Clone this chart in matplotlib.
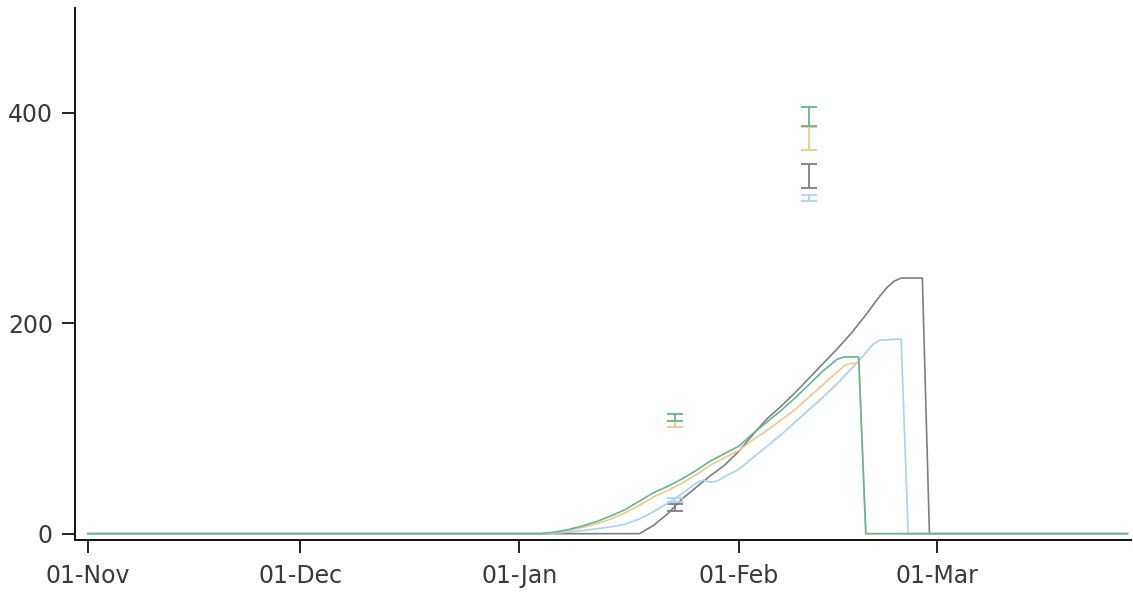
import matplotlib
matplotlib.use("Agg")
import matplotlib.pyplot as plt
import matplotlib.dates as mdates
import pandas as pd

# Simulated series (date, value)
grey_dates = ["2014-11-01", "2015-01-18", "2015-01-20", "2015-01-22", "2015-01-24",
              "2015-01-26", "2015-01-28", "2015-01-30", "2015-02-01", "2015-02-03",
              "2015-02-05", "2015-02-07", "2015-02-09", "2015-02-11", "2015-02-13",
              "2015-02-15", "2015-02-17", "2015-02-19", "2015-02-21", "2015-02-22",
              "2015-02-23", "2015-02-24", "2015-02-27", "2015-02-28", "2015-03-28"]
grey_vals = [0, 0, 8, 19, 33, 44, 55, 65, 78, 94, 109, 121, 134, 148, 162,
             176, 191, 208, 226, 234, 240, 243, 243, 0, 0]

blue_dates = ["2014-11-01", "2015-01-04", "2015-01-06", "2015-01-08", "2015-01-10",
              "2015-01-12", "2015-01-14", "2015-01-16", "2015-01-18", "2015-01-20",
              "2015-01-22", "2015-01-24", "2015-01-26", "2015-01-27", "2015-01-28",
              "2015-01-29", "2015-01-30", "2015-02-01", "2015-02-03", "2015-02-05",
              "2015-02-07", "2015-02-09", "2015-02-11", "2015-02-13", "2015-02-15",
              "2015-02-17", "2015-02-19", "2015-02-20", "2015-02-21", "2015-02-24",
              "2015-02-25", "2015-03-28"]
blue_vals = [0, 0, 0.5, 1.5, 3, 4.7, 6.5, 9, 14, 21, 29, 38, 48, 51, 49, 50, 54,
             61, 72, 83, 94, 106, 118, 130, 143, 157, 172, 180, 184, 185, 0, 0]

orange_dates = ["2014-11-01", "2015-01-04", "2015-01-06", "2015-01-08", "2015-01-10",
                "2015-01-12", "2015-01-14", "2015-01-16", "2015-01-18", "2015-01-20",
                "2015-01-22", "2015-01-24", "2015-01-26", "2015-01-28", "2015-01-30",
                "2015-02-01", "2015-02-03", "2015-02-05", "2015-02-07", "2015-02-09",
                "2015-02-11", "2015-02-13", "2015-02-15", "2015-02-16", "2015-02-17",
                "2015-02-18", "2015-02-19", "2015-03-28"]
orange_vals = [0, 0, 1, 3, 6, 9.5, 14, 20, 27, 35, 41, 48, 56, 65, 72, 79, 89, 98,
               108, 118, 130, 142, 154, 160, 162, 162, 0, 0]

green_dates = ["2014-11-01", "2015-01-04", "2015-01-06", "2015-01-08", "2015-01-10",
               "2015-01-12", "2015-01-14", "2015-01-16", "2015-01-18", "2015-01-20",
               "2015-01-22", "2015-01-24", "2015-01-26", "2015-01-28", "2015-01-30",
               "2015-02-01", "2015-02-03", "2015-02-05", "2015-02-07", "2015-02-09",
               "2015-02-11", "2015-02-13", "2015-02-15", "2015-02-16", "2015-02-18",
               "2015-02-19", "2015-03-28"]
green_vals = [0, 0, 1.5, 4, 7.5, 11.7, 17, 23, 31, 39, 45, 52, 60, 69, 76, 83, 95,
              106, 117, 129, 142, 155, 166, 168, 168, 0, 0]

# Observations: mean and half-range
obs_dates = ["2015-01-23", "2015-02-11"]
grey_obs = [25, 340]
grey_err = [3, 11]
blue_obs = [32, 319]
blue_err = [2, 3]
orange_obs = [104, 375.5]
orange_err = [3, 11]
green_obs = [110.5, 397]
green_err = [3.5, 9]

tick_dates = ["2014-11-01", "2014-12-01", "2015-01-01", "2015-02-01", "2015-03-01"]
y_ticks = [0, 200, 400]

colors = {"grey": "#7e7e7e", "blue": "#a9d2ec", "orange": "#ecc98a", "green": "#66b592"}

fig = plt.figure(figsize=(11.33, 5.93), dpi=100)
ax = fig.add_axes([0.0662, 0.0894, 0.932, 0.8976])

series = [
    (grey_dates, grey_vals, grey_obs, grey_err, colors["grey"]),
    (blue_dates, blue_vals, blue_obs, blue_err, colors["blue"]),
    (orange_dates, orange_vals, orange_obs, orange_err, colors["orange"]),
    (green_dates, green_vals, green_obs, green_err, colors["green"]),
]
obs_x = pd.to_datetime(obs_dates)
for d, v, o, e, c in series:
    ax.plot(pd.to_datetime(d), v, color=c, lw=1.2)
    ax.errorbar(obs_x, o, yerr=e, fmt="none", ecolor=c, elinewidth=1.3,
                capsize=6, capthick=1.3)

ax.set_xlim(pd.Timestamp("2014-10-30 04:00"), pd.Timestamp("2015-03-28 12:00"))
ax.set_ylim(-6, 500)
ax.set_xticks(pd.to_datetime(tick_dates))
ax.xaxis.set_major_formatter(mdates.DateFormatter("%d-%b"))
ax.set_yticks(y_ticks)

for side in ("top", "right"):
    ax.spines[side].set_visible(False)
for side in ("left", "bottom"):
    ax.spines[side].set_linewidth(1.4)
    ax.spines[side].set_color("#111111")
ax.tick_params(axis="both", direction="out", length=9.5, width=1.3,
               color="#111111", labelsize=17, labelcolor="#3a3a3a")
ax.tick_params(axis="x", pad=7.5)
ax.tick_params(axis="y", pad=6.5)

fig.savefig("out.png", dpi=100)
